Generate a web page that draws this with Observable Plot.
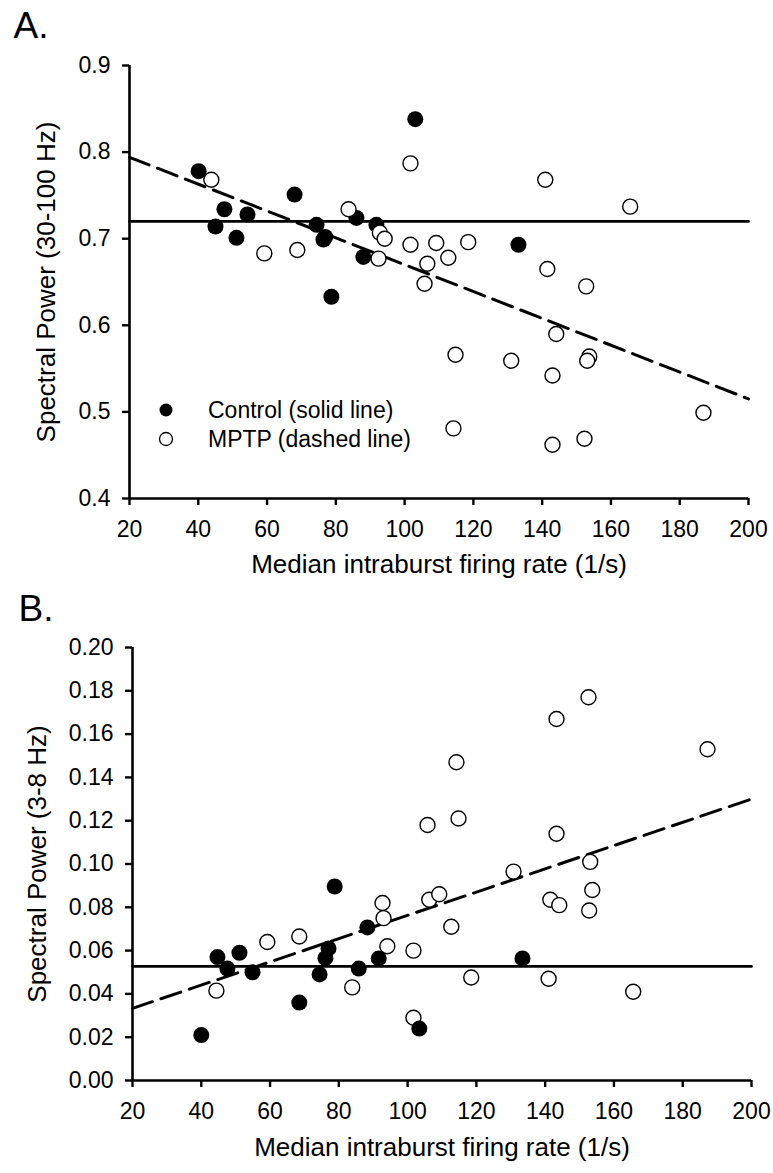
<!DOCTYPE html>
<html>
<head>
<meta charset="utf-8">
<script src="https://cdn.jsdelivr.net/npm/d3@7"></script>
<script src="https://cdn.jsdelivr.net/npm/@observablehq/plot@0.6"></script>
<style>
  html, body { margin: 0; padding: 0; background: #fff; }
  #wrap { position: relative; width: 773px; height: 1173px; font-family: "Liberation Sans", Arial, sans-serif; }
  #wrap svg { display: block; }
  .legend { position: absolute; left: 150px; font-size: 23px; color: #000; }
  .legend .row { position: absolute; left: 0; height: 26px; display: flex; align-items: center; white-space: nowrap; }
  .legend svg { display: inline-block; margin-right: 0; }
</style>
</head>
<body>
<div id="wrap"></div>
<script>
// ---------- data ----------
const xLabel = "Median intraburst firing rate (1/s)";
const yLabelA = "Spectral Power (30-100 Hz)";
const yLabelB = "Spectral Power (3-8 Hz)";
const legendLabels = ["Control (solid line)", "MPTP (dashed line)"];

const xTicks = [20, 40, 60, 80, 100, 120, 140, 160, 180, 200];
const yTicksA = [0.4, 0.5, 0.6, 0.7, 0.8, 0.9];
const yTicksB = [0.00, 0.02, 0.04, 0.06, 0.08, 0.10, 0.12, 0.14, 0.16, 0.18, 0.20];

// Panel A — Control
const ctrlXA = [40.1, 45.0, 47.6, 51.1, 54.3, 68.0, 74.4, 76.4, 76.9, 78.7, 86.0, 88.0, 91.8, 103.1, 133.1];
const ctrlYA = [0.778, 0.714, 0.734, 0.701, 0.728, 0.751, 0.716, 0.699, 0.702, 0.633, 0.724, 0.679, 0.716, 0.838, 0.693];
// Panel A — MPTP
const mptpXA = [43.8, 59.2, 68.8, 83.7, 92.8, 94.2, 92.4, 101.7, 109.2, 118.5, 112.7, 106.6, 105.8, 101.7,
                140.9, 165.6, 141.5, 152.8, 144.1, 114.8, 131.0, 143.0, 153.7, 153.1, 186.9, 114.2, 143.0, 152.3];
const mptpYA = [0.768, 0.683, 0.687, 0.734, 0.707, 0.700, 0.677, 0.693, 0.695, 0.696, 0.678, 0.671, 0.648, 0.787,
                0.768, 0.737, 0.665, 0.645, 0.590, 0.566, 0.559, 0.542, 0.564, 0.559, 0.499, 0.481, 0.462, 0.469];

// Panel B — Control
const ctrlXB = [40.0, 44.7, 47.6, 51.1, 54.9, 68.5, 74.4, 77.0, 76.1, 78.8, 85.8, 88.3, 91.6, 103.4, 133.4];
const ctrlYB = [0.021, 0.057, 0.0517, 0.059, 0.050, 0.036, 0.049, 0.061, 0.0565, 0.0896, 0.0517, 0.0707, 0.0564, 0.024, 0.0564];
// Panel B — MPTP
const mptpXB = [44.4, 59.2, 68.5, 83.9, 92.7, 93.0, 94.1, 101.7, 101.7, 105.8, 106.3, 109.2, 112.7, 114.2,
                114.8, 118.5, 130.8, 141.0, 141.5, 143.3, 143.3, 144.1, 152.6, 152.8, 153.1, 153.7, 165.6, 187.2];
const mptpYB = [0.0415, 0.064, 0.0665, 0.043, 0.082, 0.075, 0.062, 0.060, 0.029, 0.118, 0.0835, 0.086, 0.071, 0.147,
                0.121, 0.0476, 0.0965, 0.047, 0.0835, 0.167, 0.114, 0.081, 0.177, 0.0785, 0.101, 0.088, 0.041, 0.153];

// Regression lines (endpoints)
const fitX = [20, 200];
const ctrlFitA = [0.720, 0.720];
const mptpFitA = [0.794, 0.515];
const ctrlFitB = [0.0527, 0.0527];
const mptpFitB = [0.0333, 0.130];

// ---------- helpers ----------
const pts = (xs, ys) => xs.map((x, i) => ({x, y: ys[i]}));
const FONT = '"Liberation Sans", Arial, sans-serif';

function panel({letter, yLabel, yDomain, yTicks, yFmt, ctrl, mptp, ctrlFit, mptpFit, height, m, letterDx, letterDy, yLabelDx, xLabelDy, mptpOnTop}) {
  const ctrlDots = Plot.dot(ctrl, {x: "x", y: "y", r: 8, fill: "black", stroke: "none"});
  const mptpDots = Plot.dot(mptp, {x: "x", y: "y", r: 7.5, fill: "white", stroke: "black", strokeWidth: 1.4});
  return Plot.plot({
    width: 773,
    height,
    marginTop: m[0], marginRight: m[1], marginBottom: m[2], marginLeft: m[3],
    style: {fontFamily: FONT, fontSize: "23px", color: "black", background: "white", overflow: "visible"},
    x: {domain: [20, 200], ticks: xTicks},
    y: {domain: yDomain, ticks: yTicks},
    marks: [
      Plot.line(pts(fitX, ctrlFit), {x: "x", y: "y", stroke: "black", strokeWidth: 2.6}),
      Plot.line(pts(fitX, mptpFit), {x: "x", y: "y", stroke: "black", strokeWidth: 3, strokeDasharray: "21,9"}),
      ...(mptpOnTop ? [ctrlDots, mptpDots] : [mptpDots, ctrlDots]),
      Plot.ruleX([20], {stroke: "black", strokeWidth: 2.6}),
      Plot.ruleY([yDomain[0]], {stroke: "black", strokeWidth: 2.6}),
      Plot.axisX({ticks: xTicks, tickSize: 7, tickPadding: 15, strokeWidth: 2.4, fontSize: 23, label: null, tickFormat: d => String(d)}),
      Plot.axisY({ticks: yTicks, tickSize: 7, tickPadding: 12, strokeWidth: 2.4, fontSize: 23, label: null, tickFormat: d3.format(yFmt)}),
      Plot.text([yLabel], {frameAnchor: "left", dx: yLabelDx, rotate: -90, textAnchor: "middle", lineAnchor: "middle", fontSize: 26, fill: "black"}),
      Plot.text([xLabel], {frameAnchor: "bottom", dy: xLabelDy, textAnchor: "middle", lineAnchor: "middle", fontSize: 26, fill: "black"}),
      Plot.text([letter], {frameAnchor: "top-left", dx: letterDx, dy: letterDy, textAnchor: "start", lineAnchor: "bottom", fontSize: 37, fill: "black"})
    ]
  });
}

const wrap = document.getElementById("wrap");

wrap.append(panel({
  letter: "A.", yLabel: yLabelA, yDomain: [0.4, 0.9], yTicks: yTicksA, yFmt: ".1f",
  ctrl: pts(ctrlXA, ctrlYA), mptp: pts(mptpXA, mptpYA), ctrlFit: ctrlFitA, mptpFit: mptpFitA,
  height: 585, m: [65, 25, 87, 129], letterDx: -116, letterDy: -28, yLabelDx: -83, xLabelDy: 66, mptpOnTop: true
}));

wrap.append(panel({
  letter: "B.", yLabel: yLabelB, yDomain: [0, 0.2], yTicks: yTicksB, yFmt: ".2f",
  ctrl: pts(ctrlXB, ctrlYB), mptp: pts(mptpXB, mptpYB), ctrlFit: ctrlFitB, mptpFit: mptpFitB,
  height: 588, m: [62, 22, 93, 132], letterDx: -114, letterDy: -27, yLabelDx: -95, xLabelDy: 67, mptpOnTop: false
}));

// ---------- legend (panel A) ----------
const legend = document.createElement("div");
legend.className = "legend";
legend.style.top = "0px";
const rows = [
  {top: 397, fill: "black", stroke: "none", label: legendLabels[0]},
  {top: 426, fill: "white", stroke: "black", label: legendLabels[1]}
];
rows.forEach(r => {
  const row = document.createElement("div");
  row.className = "row";
  row.style.top = r.top + "px";
  const svg = d3.create("svg").attr("width", 58).attr("height", 26);
  svg.append("circle").attr("cx", 16).attr("cy", 13).attr("r", 6.5)
    .attr("fill", r.fill).attr("stroke", r.stroke).attr("stroke-width", 1.3);
  row.append(svg.node());
  const span = document.createElement("span");
  span.textContent = r.label;
  row.append(span);
  legend.append(row);
});
wrap.append(legend);
</script>
</body>
</html>
